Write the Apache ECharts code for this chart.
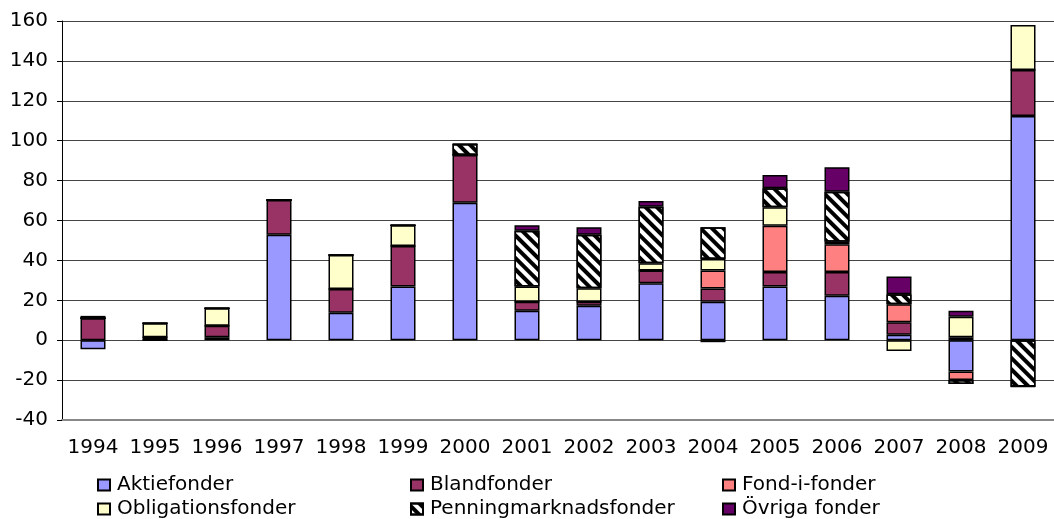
<!DOCTYPE html>
<html>
<head>
<meta charset="utf-8">
<script src="https://cdn.jsdelivr.net/npm/echarts@6/dist/echarts.min.js"></script>
<style>
  html, body { margin: 0; padding: 0; background: #fff; }
  #chart { width: 1054px; height: 519px; }
</style>
</head>
<body>
<div id="chart"></div>
<script>
const years = ['1994', '1995', '1996', '1997', '1998', '1999', '2000', '2001',
  '2002', '2003', '2004', '2005', '2006', '2007', '2008', '2009']

const aktiefonder = [-4.5, 0, 1.5, 52.8, 13.8, 26.9, 68.9, 14.7, 17.3, 28.6, 19.3, 26.9, 22.3, 2.7, -15.7, 112.4]
const blandfonder = [11, 1.5, 5.7, 17.5, 11.9, 20.3, 23.9, 4.6, 2, 6.3, 6.6, 7.3, 11.9, 6.3, 1.5, 23]
const fondIFonder = [0, 0, 0, 0, 0, 0, 0, 0, 0, 0, 9.1, 23.2, 13.9, 9, -4.2, 0]
const obligationsfonder = [0, 7, 8.8, 0, 17, 10.4, 0, 7.6, 6.7, 3.7, 5.7, 9.2, 1.2, -5.4, 10.3, 22.6]
const penningmarknadsfonder = [0, 0, 0, 0, 0, 0, 5.5, 28, 26.8, 28.3, 15.9, 9.6, 25.1, 5, -2.1, -23.2]
const ovrigaFonder = [1.2, 0, 0, 0, 0, 0, 0, 2.7, 3.8, 2.9, -1, 6.6, 12.3, 8.9, 3, 0]

const yTicks = { min: -40, max: 160, interval: 20 }

const chart = echarts.init(document.getElementById('chart'))

const font = 'DejaVu Sans, Verdana, sans-serif'

function barSeries(name, data, color, decal) {
  const s = {
    name: name,
    type: 'bar',
    stack: 'total',
    barWidth: 25,
    data: data,
    itemStyle: {
      color: color,
      borderColor: '#000',
      borderWidth: 1.5
    },
    emphasis: { disabled: true }
  }
  if (decal) {
    s.itemStyle.decal = decal
  }
  return s
}

const hatch = {
  symbol: 'rect',
  symbolSize: 1,
  color: '#000',
  dashArrayX: [1, 0],
  dashArrayY: [4, 4],
  rotation: Math.PI / 4
}

// one legend per entry so the three columns line up
function legendItem(name, left, top) {
  return {
    left: left,
    top: top,
    itemWidth: 12,
    itemHeight: 11,
    icon: 'rect',
    selectedMode: false,
    padding: 0,
    data: [name],
    textStyle: { fontFamily: font, fontSize: 20, color: '#000', padding: [0, 0, 0, 2] }
  }
}

const option = {
  backgroundColor: '#fff',
  animation: false,
  legend: [
    legendItem('Aktiefonder', 97, 475),
    legendItem('Obligationsfonder', 97, 499),
    legendItem('Blandfonder', 410, 475),
    legendItem('Penningmarknadsfonder', 410, 499),
    legendItem('Fond-i-fonder', 722, 475),
    legendItem('Övriga fonder', 722, 499)
  ],
  grid: {
    left: 62,
    right: 0,
    top: 21,
    bottom: 99
  },
  xAxis: {
    type: 'category',
    data: years,
    axisLine: { onZero: false, lineStyle: { color: '#888', width: 2 } },
    axisTick: { show: false },
    axisLabel: { interval: 0, hideOverlap: false, margin: 18, fontFamily: font, fontSize: 20, color: '#000' }
  },
  yAxis: {
    type: 'value',
    min: yTicks.min,
    max: yTicks.max,
    interval: yTicks.interval,
    axisLine: { show: true, lineStyle: { color: '#000', width: 1 } },
    axisTick: { show: true, inside: false, length: 5, lineStyle: { color: '#000' } },
    axisLabel: { margin: 14, fontFamily: font, fontSize: 20, color: '#000' },
    splitLine: { lineStyle: { color: '#444', width: 1 } }
  },
  series: [
    barSeries('Aktiefonder', aktiefonder, '#9999FF'),
    barSeries('Blandfonder', blandfonder, '#993366'),
    barSeries('Fond-i-fonder', fondIFonder, '#FF8080'),
    barSeries('Obligationsfonder', obligationsfonder, '#FFFFCC'),
    barSeries('Penningmarknadsfonder', penningmarknadsfonder, '#FFFFFF', hatch),
    barSeries('Övriga fonder', ovrigaFonder, '#660066')
  ]
}

chart.setOption(option)
</script>
</body>
</html>
